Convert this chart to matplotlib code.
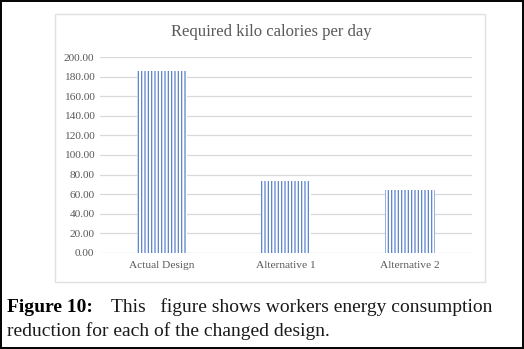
import matplotlib
matplotlib.use("Agg")
import matplotlib.pyplot as plt
from matplotlib.patches import Rectangle

# --- data ---
categories = ["Actual Design", "Alternative 1", "Alternative 2"]
kcal_values = [186.0, 73.5, 64.0]
y_ticks = [0, 20, 40, 60, 80, 100, 120, 140, 160, 180, 200]

chart_title = "Required kilo calories per day"
caption_bold = "Figure 10:"
caption_line1 = "This   figure shows workers energy consumption"
caption_line2 = "reduction for each of the changed design."

# --- style ---
plt.rcParams['font.family'] = ['Liberation Serif', 'DejaVu Serif']
plt.rcParams['hatch.linewidth'] = 0.9
TEXT_GRAY = '#595959'
GRID_GRAY = '#d9d9d9'
BAR_BLUE = '#5a82cc'

fig = plt.figure(figsize=(5.24, 3.49), dpi=100)

# outer black frame of the figure image
fig.patches.append(Rectangle((0.002, 0.003), 0.996, 0.994, transform=fig.transFigure,
                             fill=False, edgecolor='black', linewidth=1.4))
# light grey chart box
fig.patches.append(Rectangle((55 / 524, 1 - 282 / 349), 430 / 524, 268 / 349,
                             transform=fig.transFigure, fill=False,
                             edgecolor='#e0e0e0', linewidth=1.0))

ax = fig.add_axes([100 / 524, 1 - 252.7 / 349, 372 / 524, 195.4 / 349])
x = range(len(categories))
ax.bar(x, kcal_values, width=0.4, color='white', edgecolor=BAR_BLUE,
       hatch='|||||', linewidth=0, zorder=3)

ax.set_xlim(-0.5, len(categories) - 0.5)
ax.set_ylim(0, 200)
ax.set_yticks(y_ticks)
ax.set_yticklabels([f"{v:.2f}" for v in y_ticks])
ax.set_xticks(list(x))
ax.set_xticklabels(categories)
ax.tick_params(length=0, labelsize=8.2, labelcolor=TEXT_GRAY, pad=6)
ax.tick_params(axis='y', pad=4)
ax.grid(axis='y', color=GRID_GRAY, linewidth=0.9, zorder=0)
for side in ['top', 'right', 'left', 'bottom']:
    ax.spines[side].set_visible(False)

fig.text(271 / 524, 1 - 32 / 349, chart_title, ha='center', va='center',
         fontsize=12, color=TEXT_GRAY)

# caption below the chart
fig.text(7 / 524, 1 - 312 / 349, caption_bold, ha='left', va='baseline',
         fontsize=14, fontweight='bold', color='black')
fig.text(111 / 524, 1 - 312 / 349, caption_line1, ha='left', va='baseline',
         fontsize=14, color='#1a1a1a')
fig.text(7 / 524, 1 - 336 / 349, caption_line2, ha='left', va='baseline',
         fontsize=14, color='#1a1a1a')

fig.savefig("out.png", dpi=100)
